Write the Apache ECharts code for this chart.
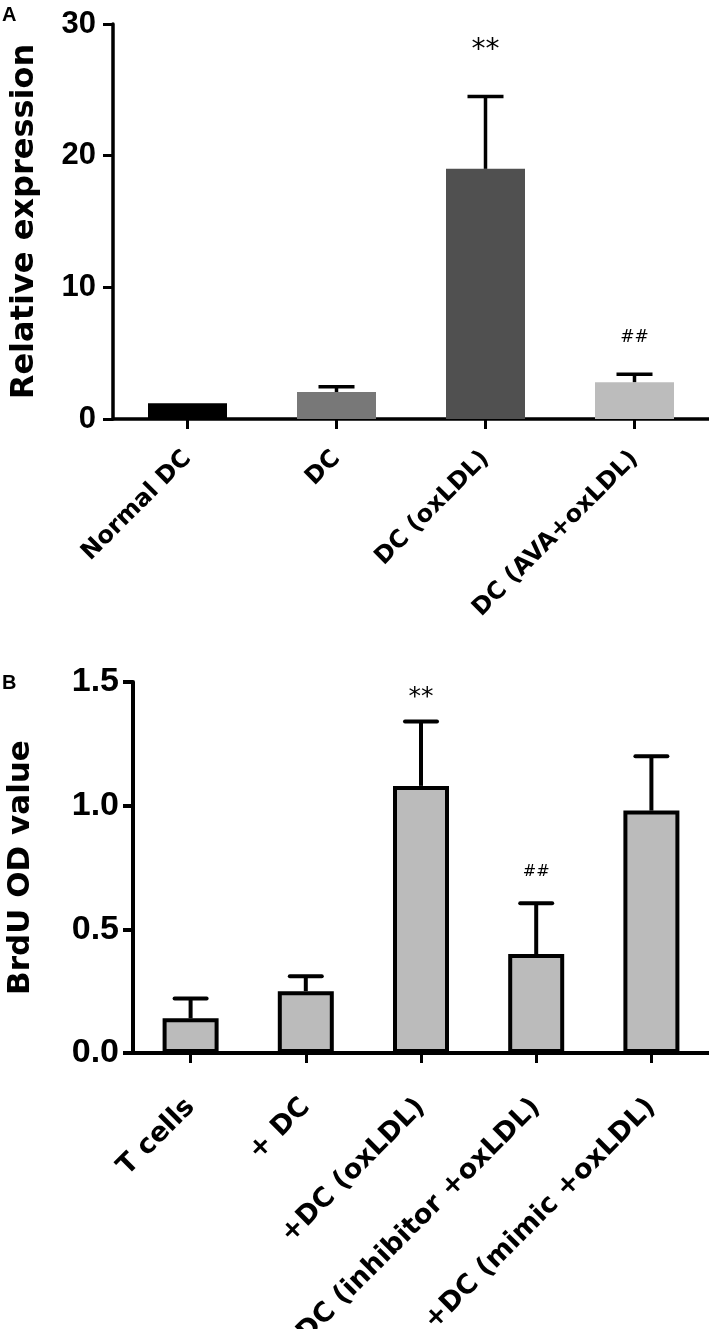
<!DOCTYPE html>
<html>
<head>
<meta charset="utf-8">
<script src="https://cdn.jsdelivr.net/npm/echarts@6/dist/echarts.min.js"></script>
<style>
html,body{margin:0;padding:0;background:#fff;}
#c{width:709px;height:1329px;}
</style>
</head>
<body>
<div id="c"></div>
<script>
// ---- Panel A data ----
const catsA = ['Normal DC', 'DC', 'DC (oxLDL)', 'DC (AVA+oxLDL)'];
const meanA = [1.2, 2.05, 19.0, 2.8];
const errA = [0, 0.4, 5.5, 0.6];
const sigA = ['', '', '**', '##'];
const ticksA = [0, 10, 20, 30];

// ---- Panel B data ----
const catsB = ['T cells', '+ DC', '+DC (oxLDL)', '+DC (inhibitor +oxLDL)', '+DC (mimic +oxLDL)'];
const meanB = [0.14, 0.25, 1.08, 0.40, 0.98];
const errB = [0.08, 0.06, 0.26, 0.205, 0.22];
const sigB = ['', '', '**', '##', ''];
const ticksB = [0, 0.5, 1.0, 1.5];

// ---- styles ----
const colorsA = ['#000000', '#787878', '#505050', '#bcbcbc'];
const fillB = '#bbbbbb';
const LBL = '"DejaVu Sans", sans-serif';
const TCK = '"Liberation Sans", Arial, sans-serif';

function errSeries(xi, yi, means, errs, lw, capW, roundCap) {
  return {
    type: 'custom', xAxisIndex: xi, yAxisIndex: yi, z: 5,
    data: means.map((m, i) => [i, m, m + errs[i]]),
    renderItem: function (params, api) {
      const i = api.value(0);
      if (api.value(2) <= api.value(1)) return null;
      const base = api.coord([i, api.value(1)]);
      const top = api.coord([i, api.value(2)]);
      const st = { stroke: '#000', lineWidth: lw, lineCap: roundCap ? 'round' : 'butt' };
      return {
        type: 'group', children: [
          { type: 'line', shape: { x1: base[0], y1: base[1], x2: top[0], y2: top[1] }, style: { stroke: '#000', lineWidth: lw } },
          { type: 'line', shape: { x1: top[0] - capW / 2, y1: top[1], x2: top[0] + capW / 2, y2: top[1] }, style: st }
        ]
      };
    }
  };
}

function sigSeries(xi, yi, means, errs, sigs, starOff, hashOff, starSize, hashSize) {
  return {
    type: 'custom', xAxisIndex: xi, yAxisIndex: yi, z: 6,
    data: means.map((m, i) => [i, m + errs[i]]),
    renderItem: function (params, api) {
      const s = sigs[params.dataIndex];
      if (!s) return null;
      const star = s.indexOf('*') >= 0;
      const p = api.coord([api.value(0), api.value(1)]);
      return {
        type: 'text',
        style: { text: s, x: p[0], y: p[1] - (star ? starOff : hashOff), align: 'center', verticalAlign: 'middle',
          fontSize: star ? starSize : hashSize, fontFamily: LBL, fill: '#000' }
      };
    }
  };
}

const chart = echarts.init(document.getElementById('c'), null, { renderer: 'canvas' });
const option = {
  animation: false,
  backgroundColor: '#fff',
  graphic: [
    { type: 'text', left: 2, top: 5, style: { text: 'A', fontSize: 20, fontWeight: 'bold', fontFamily: TCK, fill: '#000' } },
    { type: 'text', left: 2, top: 673, style: { text: 'B', fontSize: 20, fontWeight: 'bold', fontFamily: TCK, fill: '#000' } }
  ],
  grid: [
    { left: 113, top: 24, width: 596, height: 395, outerBoundsMode: 'none', containLabel: false },
    { left: 133, top: 682, width: 576, height: 371, outerBoundsMode: 'none', containLabel: false }
  ],
  xAxis: [
    {
      type: 'category', gridIndex: 0, data: catsA,
      axisLine: { show: true, lineStyle: { color: '#000', width: 3.5 } },
      axisTick: { show: true, alignWithLabel: true, length: 10, lineStyle: { color: '#000', width: 3 } },
      axisLabel: { interval: 0, rotate: 45, margin: 36, color: '#000', fontSize: 24, fontWeight: 'bold', fontFamily: LBL }
    },
    {
      type: 'category', gridIndex: 1, data: catsB,
      axisLine: { show: true, lineStyle: { color: '#000', width: 4 } },
      axisTick: { show: true, alignWithLabel: true, length: 10, lineStyle: { color: '#000', width: 3 } },
      axisLabel: { interval: 0, rotate: 45, margin: 50, color: '#000', fontSize: 27, fontWeight: 'bold', fontFamily: LBL }
    }
  ],
  yAxis: [
    {
      type: 'value', gridIndex: 0, min: ticksA[0], max: ticksA[ticksA.length - 1], interval: ticksA[1] - ticksA[0],
      name: 'Relative expression', nameLocation: 'middle', nameGap: 72,
      nameTextStyle: { color: '#000', fontSize: 32, fontWeight: 'bold', fontFamily: LBL },
      splitLine: { show: false },
      axisLine: { show: true, lineStyle: { color: '#000', width: 3.5 } },
      axisTick: { show: true, length: 10, lineStyle: { color: '#000', width: 3 } },
      axisLabel: { margin: 17, color: '#000', fontSize: 31, fontWeight: 'bold', fontFamily: TCK }
    },
    {
      type: 'value', gridIndex: 1, min: ticksB[0], max: ticksB[ticksB.length - 1], interval: ticksB[1] - ticksB[0],
      name: 'BrdU OD value', nameLocation: 'middle', nameGap: 97,
      nameTextStyle: { color: '#000', fontSize: 31, fontWeight: 'bold', fontFamily: LBL },
      splitLine: { show: false },
      axisLine: { show: true, lineStyle: { color: '#000', width: 4 } },
      axisTick: { show: true, length: 10, lineStyle: { color: '#000', width: 4 } },
      axisLabel: { margin: 14, color: '#000', fontSize: 34, fontWeight: 'bold', fontFamily: TCK,
        formatter: v => v.toFixed(1) }
    }
  ],
  series: [
    {
      type: 'bar', xAxisIndex: 0, yAxisIndex: 0, data: meanA, barWidth: 79,
      itemStyle: { color: p => colorsA[p.dataIndex] }
    },
    errSeries(0, 0, meanA, errA, 3.5, 36, false),
    sigSeries(0, 0, meanA, errA, sigA, 46, 37, 28, 17),
    {
      type: 'bar', xAxisIndex: 1, yAxisIndex: 1, data: meanB, barWidth: 56,
      itemStyle: { color: fillB, borderColor: '#000', borderWidth: 4 }
    },
    errSeries(1, 1, meanB, errB, 4, 32, true),
    sigSeries(1, 1, meanB, errB, sigB, 24, 32, 25, 16)
  ]
};
chart.setOption(option);
</script>
</body>
</html>
